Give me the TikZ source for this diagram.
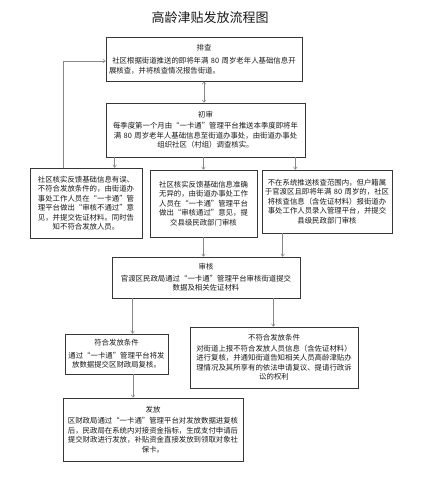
\documentclass[tikz,border=0pt]{standalone}
\usepackage{fontspec}
\setmainfont{Noto Sans CJK SC}
\usepackage{tikz}
\usetikzlibrary{arrows.meta,positioning,calc}
\definecolor{LineG} {RGB}{55, 55, 55}
\definecolor{ArrG}  {RGB}{135,135,135}
\definecolor{TextD} {RGB}{25, 25, 25}
\tikzset{
  flowbox/.style={draw=LineG,line width=0.7pt,align=center,inner sep=2pt,
                  text=TextD,font=\fontsize{7.4pt}{9.5pt}\selectfont},
  arr/.style={-{To[length=3pt,width=4pt]},ArrG,line width=0.5pt},
  arrboth/.style={{To[length=3pt,width=4pt]}-{To[length=3pt,width=4pt]},ArrG,line width=0.5pt}
}

\begin{document}
\begin{tikzpicture}[x=1pt,y=-1pt]
    \useasboundingbox (0,0) rectangle (425,500);
    \node[font=\fontsize{13pt}{15pt}\selectfont,text=TextD] (title) at (210,18) {高龄津贴发放流程图};
    % upper part
    \node[flowbox,minimum width=196pt,minimum height=44pt,text width=190pt] (pc) at (204,59)
      {排查\\[4pt]社区根据街道推送的即将年满~80~周岁老年人基础信息开\\展核查，并将核查情况报告街道。\hfill\null};
    \node[flowbox,minimum width=199pt,minimum height=54pt,text width=193pt] (cs) at (205.5,130)
      {初审\\[1.5pt]每季度第一个月由“一卡通”管理平台推送本季度即将年\\满~80~周岁老年人基础信息至街道办事处，由街道办事处\\组织社区（村组）调查核实。};
    \node[flowbox,minimum width=112pt,minimum height=70pt,text width=106pt] (yw) at (86,203)
      {社区核实反馈基础信息有误、\\不符合发放条件的，由街道办\\事处工作人员在“一卡通”管\\理平台做出“审核不通过”意\\见，并提交佐证材料。同时告\\知不符合发放人员。};
    \node[flowbox,minimum width=107pt,minimum height=67pt,text width=101pt] (zq) at (203.5,203.5)
      {社区核实反馈基础信息准确\\无异的，由街道办事处工作\\人员在“一卡通”管理平台\\做出“审核通过”意见，提\\交县级民政部门审核};
    \node[flowbox,minimum width=130pt,minimum height=63pt,text width=126pt] (bl) at (327,201.5)
      {不在系统推送核查范围内，但户籍属\\于官渡区且即将年满~80~周岁的，社区\\将核查信息（含佐证材料）报街道办\\事处工作人员录入管理平台，并提交\\县级民政部门审核};
    % lower part
    \node[flowbox,minimum width=188pt,minimum height=41pt,text width=182pt] (sh) at (206,277.5)
      {审核\\[2pt]官渡区民政局通过“一卡通”管理平台审核街道提交\\数据及相关佐证材料};
    \node[flowbox,minimum width=103pt,minimum height=40pt,text width=97pt] (fh) at (116.5,354)
      {符合发放条件\\[3pt]通过“一卡通”管理平台将发\\放数据提交区财政局复核。};
    \node[flowbox,minimum width=168pt,minimum height=61pt,text width=162pt] (bfh) at (274,357.5)
      {不符合发放条件\\[1pt]对街道上报不符合发放人员信息（含佐证材料）\\进行复核，并通知街道告知相关人员高龄津贴办\\理情况及其所享有的依法申请复议、提请行政诉\\讼的权利};
    \node[flowbox,minimum width=180pt,minimum height=63pt,text width=174pt] (ff) at (153,429.5)
      {发放\\[2pt]区财政局通过“一卡通”管理平台对发放数据进复核\\后，民政局在系统内对接资金指标，生成支付申请后\\提交财政进行发放，补贴资金直接发放到领取对象社\\保卡。};
    % connectors
    \draw[arrboth] (pc.south) -- (pc.south |- cs.north);
    \draw[arr] ([xshift=9pt]cs.south west) -- ([xshift=9pt]cs.south west |- yw.north);
    \draw[arr] (zq.north |- cs.south) -- (zq.north);
    \draw[arr] ([xshift=-10pt]cs.south east) -- ([xshift=-10pt]cs.south east |- bl.north);
    \draw[arr] ([xshift=-23pt]yw.north) |- ([yshift=-2pt]pc.west);
    \draw[arr] (zq.south) -- (zq.south |- sh.north);
    \draw[arr] ([xshift=21pt]bl.south west) -- ([xshift=21pt]bl.south west |- sh.north);
    \draw[arr] ([xshift=21pt]sh.south west) -- ([xshift=21pt]sh.south west |- fh.north);
    \draw[arr] ([xshift=-27pt]sh.south east) -- ([xshift=-27pt]sh.south east |- bfh.north);
    \draw[arr] ([xshift=16.5pt]fh.south) -- ([xshift=16.5pt]fh.south |- ff.north);
\end{tikzpicture}
\end{document}
